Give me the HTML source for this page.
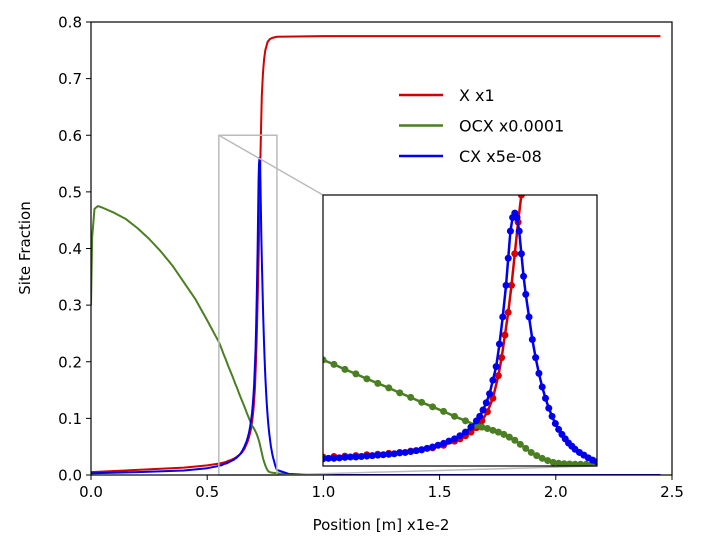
<!DOCTYPE html>
<html><head><meta charset="utf-8"><style>
body{margin:0;background:#fff}
svg{display:block;font-family:"DejaVu Sans","Liberation Sans",sans-serif}
</style></head><body>
<svg id="chart" width="704" height="554">
<defs><clipPath id="insetClip"><rect x="323" y="195" width="274" height="271"/></clipPath>
<clipPath id="mainClip"><rect x="91" y="22" width="581" height="453"/></clipPath></defs>
<g id="main" clip-path="url(#mainClip)"></g>
<g id="inset" clip-path="url(#insetClip)"></g>
<g id="overlay"></g>
</svg>
<script>
const xTicks=[0,0.5,1.0,1.5,2.0,2.5];
const xTickLabels=["0.0","0.5","1.0","1.5","2.0","2.5"];
const yTicks=[0,0.1,0.2,0.3,0.4,0.5,0.6,0.7,0.8];
const yTickLabels=["0.0","0.1","0.2","0.3","0.4","0.5","0.6","0.7","0.8"];
const seriesNames=["X x1","OCX x0.0001","CX x5e-08"];
const seriesColors=["#d40000","#4a7f22","#0000ee"];
const redX=[0,0.1,0.2,0.3,0.4,0.5,0.55,0.56,0.57,0.58,0.59,0.60,0.61,0.62,0.63,0.64,0.65,0.66,0.67,0.675,0.68,0.685,0.69,0.695,0.70,0.705,0.71,0.713,0.716,0.719,0.722,0.725,0.728,0.731,0.735,0.74,0.745,0.75,0.76,0.77,0.78,0.8,1.0,2.45];
const redY=[0.005,0.007,0.009,0.011,0.013,0.017,0.02,0.021,0.022,0.023,0.025,0.026,0.028,0.03,0.033,0.036,0.04,0.046,0.055,0.06,0.067,0.075,0.085,0.1,0.12,0.15,0.2,0.24,0.29,0.34,0.4,0.47,0.54,0.6,0.67,0.71,0.735,0.75,0.765,0.77,0.772,0.774,0.775,0.775];
const greenX=[0,0.005,0.015,0.03,0.05,0.1,0.15,0.2,0.25,0.3,0.35,0.4,0.45,0.5,0.55,0.56,0.57,0.58,0.59,0.60,0.61,0.62,0.63,0.64,0.65,0.66,0.67,0.68,0.69,0.695,0.70,0.705,0.71,0.715,0.72,0.725,0.73,0.735,0.74,0.745,0.75,0.755,0.76,0.765,0.77,0.775,0.78,0.785,0.79,0.795,0.8,0.85,1.0,2.45];
const greenY=[0.3,0.42,0.47,0.475,0.472,0.463,0.452,0.436,0.417,0.395,0.37,0.34,0.31,0.273,0.235,0.225,0.214,0.204,0.193,0.183,0.173,0.162,0.152,0.141,0.131,0.121,0.110,0.100,0.090,0.086,0.083,0.079,0.075,0.07,0.064,0.057,0.048,0.039,0.03,0.023,0.017,0.012,0.008,0.006,0.005,0.0045,0.004,0.004,0.0035,0.0035,0.003,0.001,0,0];
const blueX=[0,0.2,0.4,0.5,0.55,0.555,0.56,0.565,0.57,0.575,0.58,0.585,0.59,0.595,0.60,0.605,0.61,0.615,0.62,0.625,0.63,0.635,0.64,0.645,0.65,0.655,0.66,0.665,0.67,0.675,0.68,0.685,0.69,0.693,0.696,0.699,0.702,0.705,0.708,0.711,0.714,0.717,0.719,0.721,0.723,0.725,0.727,0.729,0.731,0.733,0.735,0.738,0.741,0.744,0.747,0.75,0.753,0.756,0.759,0.762,0.765,0.768,0.771,0.774,0.777,0.78,0.784,0.788,0.792,0.796,0.8,0.85,1.0,2.45];
const blueY=[0.003,0.005,0.008,0.012,0.016,0.017,0.017,0.018,0.019,0.02,0.02,0.021,0.022,0.023,0.024,0.025,0.026,0.027,0.029,0.03,0.032,0.034,0.036,0.039,0.042,0.046,0.05,0.055,0.06,0.067,0.075,0.086,0.1,0.11,0.124,0.14,0.16,0.19,0.22,0.27,0.33,0.4,0.46,0.52,0.55,0.56,0.55,0.52,0.47,0.42,0.38,0.33,0.28,0.24,0.205,0.175,0.15,0.128,0.11,0.094,0.081,0.07,0.06,0.051,0.044,0.037,0.03,0.024,0.018,0.013,0.009,0.002,0,0];

const NS="http://www.w3.org/2000/svg";
const L=91,R=672,T=22,B=475;
const sx=v=>L+(v-0)/(2.5-0)*(R-L);
const sy=v=>B-(v-0)/(0.8-0)*(B-T);
const IL=323,IR=597,IT=195,IB=466;
const ix=v=>IL+(v-0.55)/(0.8-0.55)*(IR-IL);
const iy=v=>IB-(v-0)/(0.6-0)*(IB-IT);
function mk(tag,attrs,parent){const e=document.createElementNS(NS,tag);for(const k in attrs)e.setAttribute(k,attrs[k]);parent.appendChild(e);return e;}
const gMain=document.getElementById('main');
const gIn=document.getElementById('inset');
const gOv=document.getElementById('overlay');
const data=[[redX,redY],[greenX,greenY],[blueX,blueY]];
const order=[0,1,2];
order.forEach(i=>{
  const [xs,ys]=data[i];
  const p=mk('polyline',{points:xs.map((x,j)=>sx(x)+','+sy(ys[j])).join(' '),fill:'none',stroke:seriesColors[i],'stroke-width':2,'stroke-linejoin':'round'},gMain);
  
  
});
let zr=mk('rect',{x:sx(0.55),y:sy(0.6),width:sx(0.8)-sx(0.55),height:sy(0)-sy(0.6),fill:'none',stroke:'#bbb','stroke-width':1.5},gOv);


let c1=mk('line',{x1:sx(0.55),y1:sy(0.6),x2:IL,y2:IT,stroke:'#bbb','stroke-width':1.5},gOv);


let c2=mk('line',{x1:sx(0.8),y1:sy(0),x2:IR,y2:IB,stroke:'#bbb','stroke-width':1.5},gOv);


let ib=mk('rect',{x:IL,y:IT,width:IR-IL,height:IB-IT,fill:'#fff',stroke:'none'},gIn);


order.forEach(i=>{
  const [xs,ys]=data[i];
  const p=mk('polyline',{points:xs.map((x,j)=>ix(x)+','+iy(ys[j])).join(' '),fill:'none',stroke:seriesColors[i],'stroke-width':2.5,'stroke-linejoin':'round'},gIn);
  
  
  xs.forEach((x,j)=>{if(x<0.54||x>0.81)return;
    const c=mk('circle',{cx:ix(x),cy:iy(ys[j]),r:3.5,fill:seriesColors[i]},gIn);
    
    
  });
});
let ibx=mk('rect',{x:IL,y:IT,width:IR-IL,height:IB-IT,fill:'none',stroke:'#000','stroke-width':1.2},gOv);


let fr=mk('rect',{x:L,y:T,width:R-L,height:B-T,fill:'none',stroke:'#000','stroke-width':1.2},gOv);


xTicks.forEach((v,i)=>{
  mk('line',{x1:sx(v),x2:sx(v),y1:B,y2:B+5,stroke:'#000','stroke-width':1},gOv);
  const t=mk('text',{x:sx(v),y:B+22,'text-anchor':'middle','font-size':15},gOv);t.textContent=xTickLabels[i];
  
  
});
yTicks.forEach((v,i)=>{
  mk('line',{x1:L-5,x2:L,y1:sy(v),y2:sy(v),stroke:'#000','stroke-width':1},gOv);
  const t=mk('text',{x:L-9,y:sy(v)+5.5,'text-anchor':'end','font-size':15},gOv);t.textContent=yTickLabels[i];
  
  
});
let xt=mk('text',{x:381,y:530,'text-anchor':'middle','font-size':15},gOv);xt.textContent='Position [m] x1e-2';


let yt=mk('text',{x:0,y:0,'text-anchor':'middle','font-size':15,transform:'translate(30,248) rotate(-90)'},gOv);yt.textContent='Site Fraction';


seriesNames.forEach((n,i)=>{
  const y=95+i*30.5;
  const l=mk('line',{x1:399,x2:443,y1:y,y2:y,stroke:seriesColors[i],'stroke-width':2.5},gOv);
  
  
  const t=mk('text',{x:459,y:y+6,'font-size':16},gOv);t.textContent=n;
  
  
});
</script>
</body></html>
